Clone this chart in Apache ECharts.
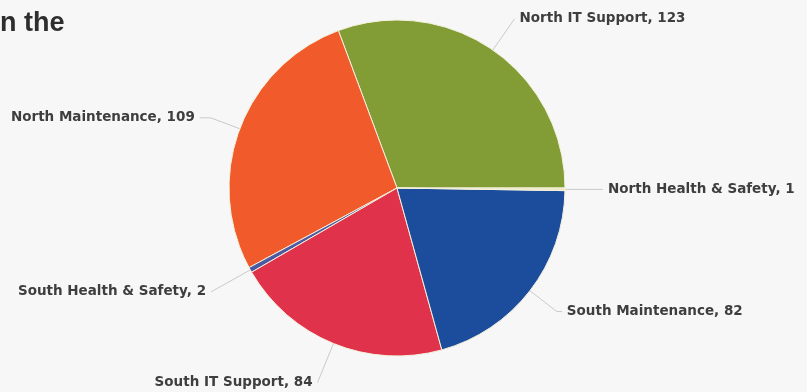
<!DOCTYPE html>
<html>
<head>
<meta charset="utf-8">
<script src="https://cdn.jsdelivr.net/npm/echarts@6/dist/echarts.min.js"></script>
<style>
  html, body { margin: 0; padding: 0; background: #f7f7f7; }
  #chart { width: 807px; height: 392px; }
</style>
</head>
<body>
<div id="chart"></div>
<script>
// slices, in order counter-clockwise from 3 o'clock
const names = ['North IT Support', 'North Maintenance', 'South Health & Safety',
  'South IT Support', 'South Maintenance', 'North Health & Safety']
const values = [123, 109, 2, 84, 82, 1]

const colors = ['#829c36', '#f15b2c', '#4b5aa2', '#e0334b', '#1c4d9c', '#eeeac4']
// label line segments per slice [first, second]
const lineLen = [[38, 0], [31, 11], [45, 0], [42, 0], [34, 5], [10, 28]]

const seriesData = names.map((n, i) => ({
  name: n,
  value: values[i],
  labelLine: { length: lineLen[i][0], length2: lineLen[i][1] }
}))

const chart = echarts.init(document.getElementById('chart'))
chart.setOption({
  backgroundColor: '#f7f7f7',
  color: colors,
  title: {
    text: 'n the',
    left: -5,
    top: 5,
    textStyle: {
      color: '#2e2e2e',
      fontSize: 27,
      fontWeight: 'bold',
      fontFamily: 'Liberation Sans'
    }
  },
  series: [
    {
      type: 'pie',
      center: [397, 188],
      radius: 168,
      startAngle: 0,
      clockwise: false,
      avoidLabelOverlap: false,
      itemStyle: {
        borderColor: '#f4f1dc',
        borderWidth: 1
      },
      label: {
        show: true,
        formatter: '{b}, {c}',
        color: '#3e3e3e',
        fontSize: 13.5,
        fontWeight: 'bold',
        fontFamily: 'DejaVu Sans'
      },
      labelLine: {
        show: true,
        lineStyle: { color: '#cacaca', width: 1 }
      },
      emphasis: { disabled: true },
      data: seriesData
    }
  ]
})
</script>
</body>
</html>
